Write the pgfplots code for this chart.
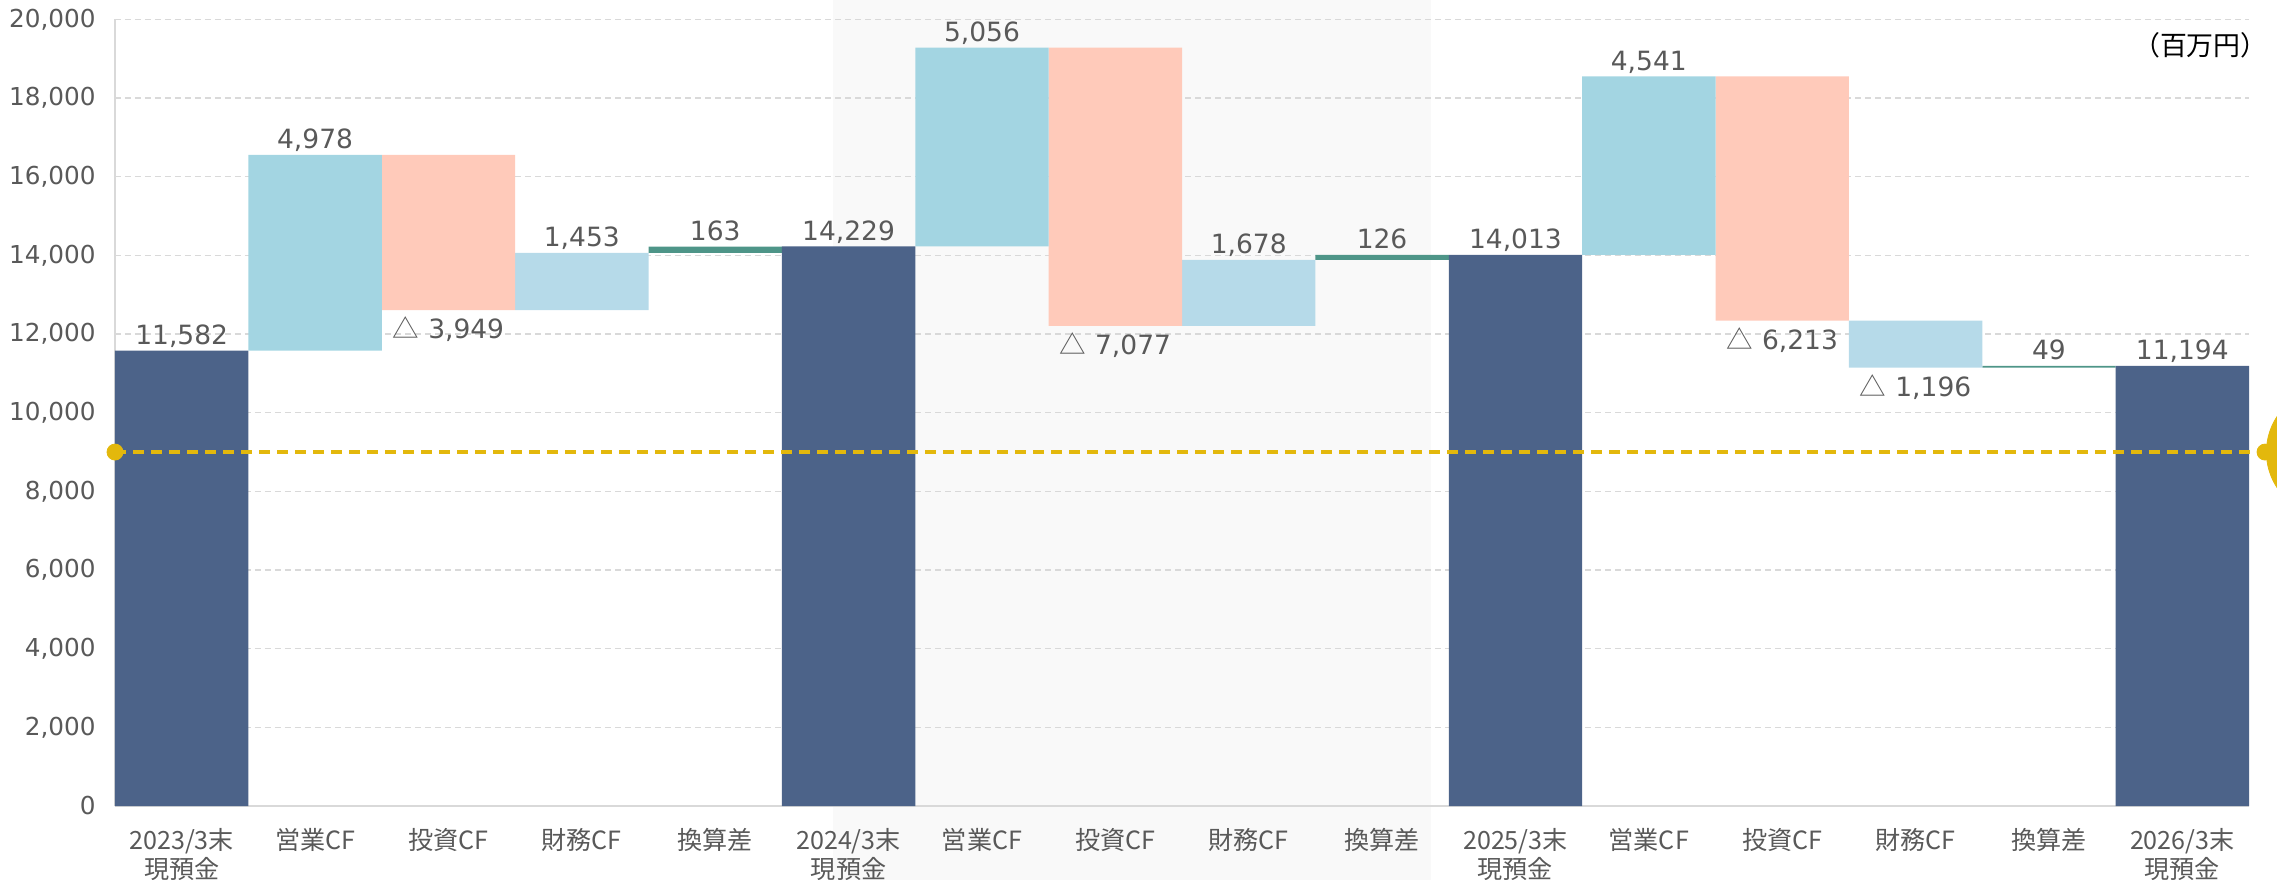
\documentclass[border=0pt]{standalone}
\usepackage{pgfplots}
\pgfplotsset{compat=1.18}
\usepackage{fontspec}
\setmainfont{DejaVu Sans}
\newfontfamily\jp{Noto Sans CJK JP}
\definecolor{navy}{HTML}{4C6389}
\definecolor{opc}{HTML}{A3D5E2}
\definecolor{invc}{HTML}{FFCABA}
\definecolor{finc}{HTML}{B6DAE9}
\definecolor{fxc}{HTML}{4E9588}
\definecolor{ylw}{HTML}{E3B80C}
\definecolor{txt}{HTML}{595959}
\definecolor{gridc}{HTML}{D9D9D9}
\definecolor{shadec}{HTML}{F9F9F9}
\DeclareRobustCommand\tri{{\jp △}\hspace{4.5bp}}
\begin{document}
\begin{tikzpicture}
\fill[shadec] (359bp,-37bp) rectangle (658bp,403bp);
\begin{axis}[
  at={(0,0)}, anchor=south west,
  scale only axis, width=1067bp, height=393.25bp,
  xmin=-0.5, xmax=15.5, ymin=0, ymax=20000,
  ybar stacked, bar width=1,
  axis x line*=bottom, axis y line*=left,
  axis line style={gridc, line width=1.2bp, -},
  ymajorgrids,
  major grid style={gridc, line width=0.7bp, dash pattern=on 3bp off 2bp},
  ytick={0,2000,...,20000},
  scaled y ticks=false,
  /pgf/number format/1000 sep={,},
  /pgf/number format/assume math mode=true,
  tick style={draw=none}, major tick length=0pt,
  yticklabel style={font=\fontsize{12.4}{14}\selectfont, text=txt, anchor=east, inner sep=0pt, xshift=-9.5bp},
  xtick={0,...,15},
  xticklabels={{2023/3末\\現預金},営業CF,投資CF,財務CF,換算差,{2024/3末\\現預金},営業CF,投資CF,財務CF,換算差,{2025/3末\\現預金},営業CF,投資CF,財務CF,換算差,{2026/3末\\現預金}},
  xticklabel style={font=\jp\fontsize{12.6}{14.5}\selectfont, text=txt, align=center, anchor=north, inner sep=0pt, yshift=-11bp},
]
% invisible base
\addplot[draw=none, fill=none] coordinates {(0,0) (1,11582) (2,12611) (3,12611) (4,14064) (5,0) (6,14229) (7,12208) (8,12208) (9,13886) (10,0) (11,14013) (12,12341) (13,11145) (14,11145) (15,0)};
% cash balances
\addplot[draw=none, fill=navy] coordinates {(0,11582) (1,0) (2,0) (3,0) (4,0) (5,14229) (6,0) (7,0) (8,0) (9,0) (10,14013) (11,0) (12,0) (13,0) (14,0) (15,11194)};
% operating CF
\addplot[draw=none, fill=opc] coordinates {(0,0) (1,4978) (2,0) (3,0) (4,0) (5,0) (6,5056) (7,0) (8,0) (9,0) (10,0) (11,4541) (12,0) (13,0) (14,0) (15,0)};
% investing CF
\addplot[draw=none, fill=invc] coordinates {(0,0) (1,0) (2,3949) (3,0) (4,0) (5,0) (6,0) (7,7077) (8,0) (9,0) (10,0) (11,0) (12,6213) (13,0) (14,0) (15,0)};
% financing CF
\addplot[draw=none, fill=finc] coordinates {(0,0) (1,0) (2,0) (3,1453) (4,0) (5,0) (6,0) (7,0) (8,1678) (9,0) (10,0) (11,0) (12,0) (13,1196) (14,0) (15,0)};
% FX difference
\addplot[draw=none, fill=fxc] coordinates {(0,0) (1,0) (2,0) (3,0) (4,163) (5,0) (6,0) (7,0) (8,0) (9,126) (10,0) (11,0) (12,0) (13,0) (14,49) (15,0)};
\end{axis}
\begin{axis}[
  at={(0,0)}, anchor=south west,
  scale only axis, width=1067bp, height=393.25bp,
  xmin=-0.5, xmax=15.5, ymin=0, ymax=20000,
  axis lines=none, clip=false, xtick=\empty, ytick=\empty,
]
\addplot[draw=none, nodes near coords, point meta=explicit symbolic,
  nodes near coords style={anchor=base, inner sep=0pt, yshift=3bp, font=\fontsize{13.3}{16}\selectfont, text=txt}]
  coordinates {(0,11582) [11,582] (1,16560) [4,978] (3,14064) [1,453] (4,14227) [163] (5,14229) [14,229] (6,19285) [5,056] (8,13886) [1,678] (9,14012) [126] (10,14013) [14,013] (11,18554) [4,541] (14,11194) [49] (15,11194) [11,194]};
\addplot[draw=none, nodes near coords, point meta=explicit symbolic,
  nodes near coords style={anchor=base, inner sep=0pt, yshift=-14.2bp, font=\fontsize{13.3}{16}\selectfont, text=txt}]
  coordinates {(2,12611) [\tri 3,949] (7,12208) [\tri 7,077] (12,12341) [\tri 6,213] (13,11145) [\tri 1,196]};
\addplot[color=ylw, line width=1.6bp, dash pattern=on 5.25bp off 3.75bp] coordinates {(-0.5,9000) (15.62,9000)};
\addplot[color=ylw, only marks, mark=*, mark size=4bp, mark options={draw=none, fill=ylw}] coordinates {(-0.5,9000) (15.62,9000)};
\addplot[color=ylw, only marks, mark=*, mark size=32.3bp, mark options={draw=none, fill=ylw}] coordinates {(16.115,9000)};
\node[anchor=east, inner sep=0pt, font=\jp\fontsize{13.5}{15}\selectfont, text=black] at (rel axis cs:1,1) [xshift=9.5bp, yshift=-12.75bp] {（百万円）};
\end{axis}
\pgfresetboundingbox
\path[use as bounding box] (-57.5bp,-37bp) rectangle (1081bp,403bp);
\end{tikzpicture}
\end{document}
